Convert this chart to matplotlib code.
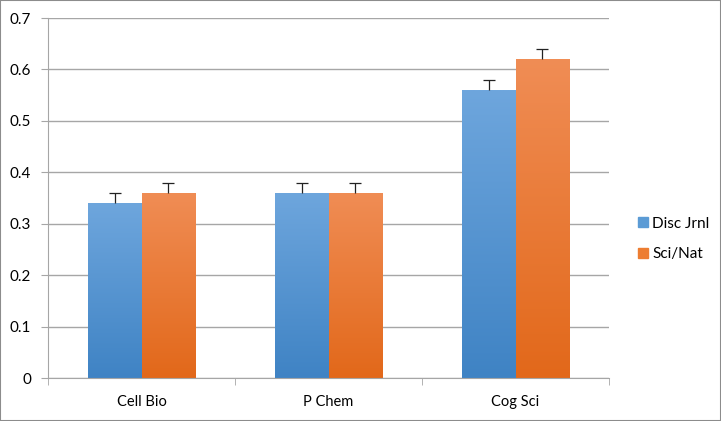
import numpy as np
import matplotlib.pyplot as plt
from matplotlib.colors import LinearSegmentedColormap
from matplotlib.patches import Patch

# data
categories = ["Cell Bio", "P Chem", "Cog Sci"]
disc_jrnl = [0.34, 0.36, 0.56]
sci_nat = [0.36, 0.36, 0.62]
disc_err = [0.02, 0.02, 0.02]
sci_err = [0.02, 0.02, 0.02]

plt.rcParams['font.family'] = ['Lato', 'DejaVu Sans']

fig = plt.figure(figsize=(7.21, 4.21), dpi=100)
ax = fig.add_axes([48/721, 1 - 378/421, (609 - 48)/721, (378 - 18)/421])

x = np.arange(len(categories))
w = 0.285

# gradient fills, lighter on top like the excel default
blue_cm = LinearSegmentedColormap.from_list("b", ["#3f83c4", "#6ea6dd"])
orange_cm = LinearSegmentedColormap.from_list("o", ["#e2681a", "#f08d55"])
grad = np.linspace(0, 1, 256).reshape(-1, 1)

for vals, errs, off, cm in [(disc_jrnl, disc_err, -w/2, blue_cm),
                            (sci_nat, sci_err, w/2, orange_cm)]:
    bars = ax.bar(x + off, vals, w, color="none", zorder=2)
    for b in bars:
        bx, by = b.get_x(), b.get_y()
        im = ax.imshow(grad, cmap=cm, aspect="auto", origin="lower",
                       extent=[bx, bx + b.get_width(), by, by + b.get_height()], zorder=2)
        im.set_clip_path(b)
    # plus-only error bars: hide the bottom cap
    eb = ax.errorbar(x + off, vals, yerr=[np.zeros(len(vals)), errs], fmt="none",
                     ecolor="#222222", elinewidth=0.9, capsize=4, capthick=0.9, zorder=3)
    eb[1][0].set_visible(False)

ax.set_xlim(-0.5, len(categories) - 0.5)
ax.set_ylim(0, 0.7)
ax.set_yticks(np.arange(0, 0.71, 0.1))
ax.set_yticklabels(["0"] + ["%.1f" % v for v in np.arange(0.1, 0.71, 0.1)])
ax.yaxis.grid(True, color="#a6a6a6", linewidth=1)
ax.set_axisbelow(True)

ax.set_xticks(x)
ax.set_xticklabels(categories)
ax.set_xticks(np.arange(-0.5, len(categories)), minor=True)
ax.tick_params(axis="x", which="major", length=0, pad=12, labelsize=10.5)
ax.tick_params(axis="x", which="minor", length=5, color="#a6a6a6", direction="out")
ax.tick_params(axis="y", length=5, color="#a6a6a6", labelsize=11, pad=7)

for s in ["top", "right"]:
    ax.spines[s].set_visible(False)
ax.spines["left"].set_color("#a6a6a6")
ax.spines["bottom"].set_color("#a6a6a6")

handles = [Patch(color="#5b9bd5", label="Disc Jrnl"), Patch(color="#ed7d31", label="Sci/Nat")]
fig.legend(handles=handles, loc="center left", bbox_to_anchor=(624/721, 1 - 239/421),
           frameon=False, fontsize=11, handlelength=0.65, handleheight=0.65,
           handletextpad=0.3, labelspacing=1.1)

# grey border around the whole chart
fig.patches.append(plt.Rectangle((0, 0), 1, 1, transform=fig.transFigure,
                                 fill=False, edgecolor="#8c8c8c", linewidth=1.5))

fig.savefig("out.png", dpi=100)
